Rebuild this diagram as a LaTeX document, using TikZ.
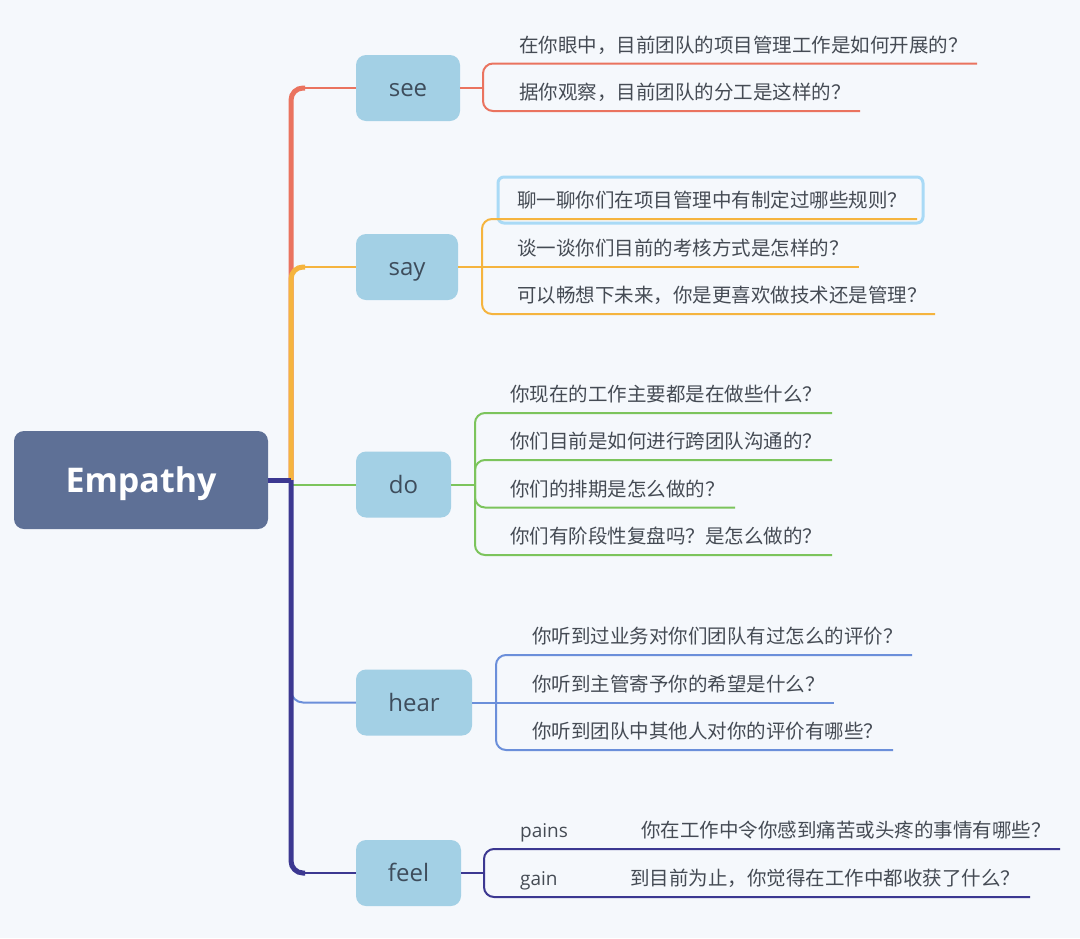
\documentclass[tikz,border=0pt]{standalone}
\usepackage{fontspec}
\setmainfont{Open Sans}
\newfontfamily\cjk{Noto Sans CJK SC}
\definecolor{bg}{HTML}{F5F8FC}
\definecolor{cRed}{HTML}{EA735F}
\definecolor{cOrange}{HTML}{F5B43E}
\definecolor{cGreen}{HTML}{7CC45C}
\definecolor{cBlue}{HTML}{6B8FDA}
\definecolor{cNavy}{HTML}{3C3891}
\definecolor{boxblue}{HTML}{A3D0E5}
\definecolor{rootblue}{HTML}{5E7096}
\definecolor{topictext}{HTML}{3E4D5C}
\definecolor{qtext}{HTML}{454B54}
\definecolor{hl}{HTML}{A9DAF6}
\begin{document}
\begin{tikzpicture}[x=1pt,y=-1pt,
  root/.style={fill=rootblue, rounded corners=10, text=white, inner sep=0,
    minimum width=254, minimum height=98, text height=25, text depth=0,
    font=\bfseries\fontsize{34}{40}\selectfont},
  topic/.style={fill=boxblue, rounded corners=10, text=topictext, inner sep=0,
    minimum height=66, text height=21, text depth=4, font=\fontsize{24}{28}\selectfont},
  q/.style={anchor=base west, inner sep=0, text=qtext, font=\cjk\fontsize{19.5}{22}\selectfont},
  lab/.style={anchor=base west, inner sep=0, text=qtext, font=\fontsize{19}{22}\selectfont},
  trunk/.style={line width=5, rounded corners=12},
  branch/.style={line width=2, rounded corners=12},
  leaf/.style={line width=2, rounded corners=10},
]
\useasboundingbox (0,0) rectangle (1080,938);
\fill[bg] (0,0) rectangle (1080,938);

% main nodes
\node[root] (root) at (141,480) {Empathy};
\node[topic, minimum width=104] (see) at (408,88) {see};
\node[topic, minimum width=102] (say) at (407,267) {say};
\node[topic, minimum width=95] (do) at (403.5,484.5) {do};
\node[topic, minimum width=116] (hear) at (414,702.5) {hear};
\node[topic, minimum width=105] (feel) at (408.5,873) {feel};

\coordinate (J) at (291,480);
\coordinate (seeK) at (305,88);
\coordinate (sayK) at (305,267);
\coordinate (feelK) at (305,873);
\coordinate (doS) at (293,484.5);

% trunk branches
\draw[trunk, cRed] (J) |- (seeK);
\draw[branch, cRed] (seeK) -- (see.west);
\draw[trunk, cOrange] (J) |- (sayK);
\draw[branch, cOrange] (sayK) -- (say.west);
\draw[branch, cBlue] (J) |- (hear.west);
\draw[branch, cGreen] (doS) -- (do.west);
\draw[trunk, cNavy] (J) |- (feelK);
\draw[branch, cNavy] (feelK) -- (feel.west);
\draw[line width=5, cNavy] (root.east) -- (J);

% selection highlight
\draw[hl, line width=3, rounded corners=6] (498,177) rectangle (923,223);

% see children
\coordinate (seeB) at (483,88);
\coordinate (see1e) at (977,63.5);
\coordinate (see2e) at (860,111);
\draw[branch, cRed] (see.east) -- (seeB);
\draw[leaf, cRed] (seeB) |- (see1e);
\draw[leaf, cRed] (seeB) |- (see2e);
\node[q] (see1) at (519,52) {在你眼中，目前团队的项目管理工作是如何开展的？};
\node[q] (see2) at (519,99.5) {据你观察，目前团队的分工是这样的？};

% say children
\coordinate (sayB) at (482,267);
\coordinate (say1e) at (917,219);
\coordinate (say2e) at (859,267);
\coordinate (say3e) at (935,314);
\draw[branch, cOrange] (say.east) -- (sayB);
\draw[leaf, cOrange] (sayB) |- (say1e);
\draw[leaf, cOrange] (sayB) -- (say2e);
\draw[leaf, cOrange] (sayB) |- (say3e);
\node[q] (say1) at (517,207.5) {聊一聊你们在项目管理中有制定过哪些规则？};
\node[q] (say2) at (517,255.5) {谈一谈你们目前的考核方式是怎样的？};
\node[q] (say3) at (517,302.5) {可以畅想下未来，你是更喜欢做技术还是管理？};

% do children
\coordinate (doB) at (475,484.5);
\coordinate (do1e) at (832,413);
\coordinate (do2e) at (832,460);
\coordinate (do3e) at (735,507.5);
\coordinate (do4e) at (832,555);
\draw[branch, cGreen] (do.east) -- (doB);
\draw[leaf, cGreen] (doB) |- (do1e);
\draw[leaf, cGreen] (doB) |- (do2e);
\draw[leaf, cGreen] (doB) |- (do3e);
\draw[leaf, cGreen] (doB) |- (do4e);
\node[q] (do1) at (510,401.5) {你现在的工作主要都是在做些什么？};
\node[q] (do2) at (510,448.5) {你们目前是如何进行跨团队沟通的？};
\node[q] (do3) at (510,496) {你们的排期是怎么做的？};
\node[q] (do4) at (510,543.5) {你们有阶段性复盘吗？是怎么做的？};

% hear children
\coordinate (hearB) at (496,702.5);
\coordinate (hear1e) at (912,655);
\coordinate (hear2e) at (834,702.5);
\coordinate (hear3e) at (893,750);
\draw[branch, cBlue] (hear.east) -- (hearB);
\draw[leaf, cBlue] (hearB) |- (hear1e);
\draw[leaf, cBlue] (hearB) -- (hear2e);
\draw[leaf, cBlue] (hearB) |- (hear3e);
\node[q] (hear1) at (532,643.5) {你听到过业务对你们团队有过怎么的评价？};
\node[q] (hear2) at (532,691) {你听到主管寄予你的希望是什么？};
\node[q] (hear3) at (532,738.5) {你听到团队中其他人对你的评价有哪些？};

% feel children
\coordinate (feelB) at (484,873);
\coordinate (feel1e) at (1060,849);
\coordinate (feel2e) at (1030,897);
\draw[branch, cNavy] (feel.east) -- (feelB);
\draw[leaf, cNavy] (feelB) |- (feel1e);
\draw[leaf, cNavy] (feelB) |- (feel2e);
\node[lab] (pains) at (520,837.5) {pains};
\node[q] (feel1) at (641,837.5) {你在工作中令你感到痛苦或头疼的事情有哪些？};
\node[lab] (gain) at (520,885.5) {gain};
\node[q] (feel2) at (630,885.5) {到目前为止，你觉得在工作中都收获了什么？};
\end{tikzpicture}
\end{document}
